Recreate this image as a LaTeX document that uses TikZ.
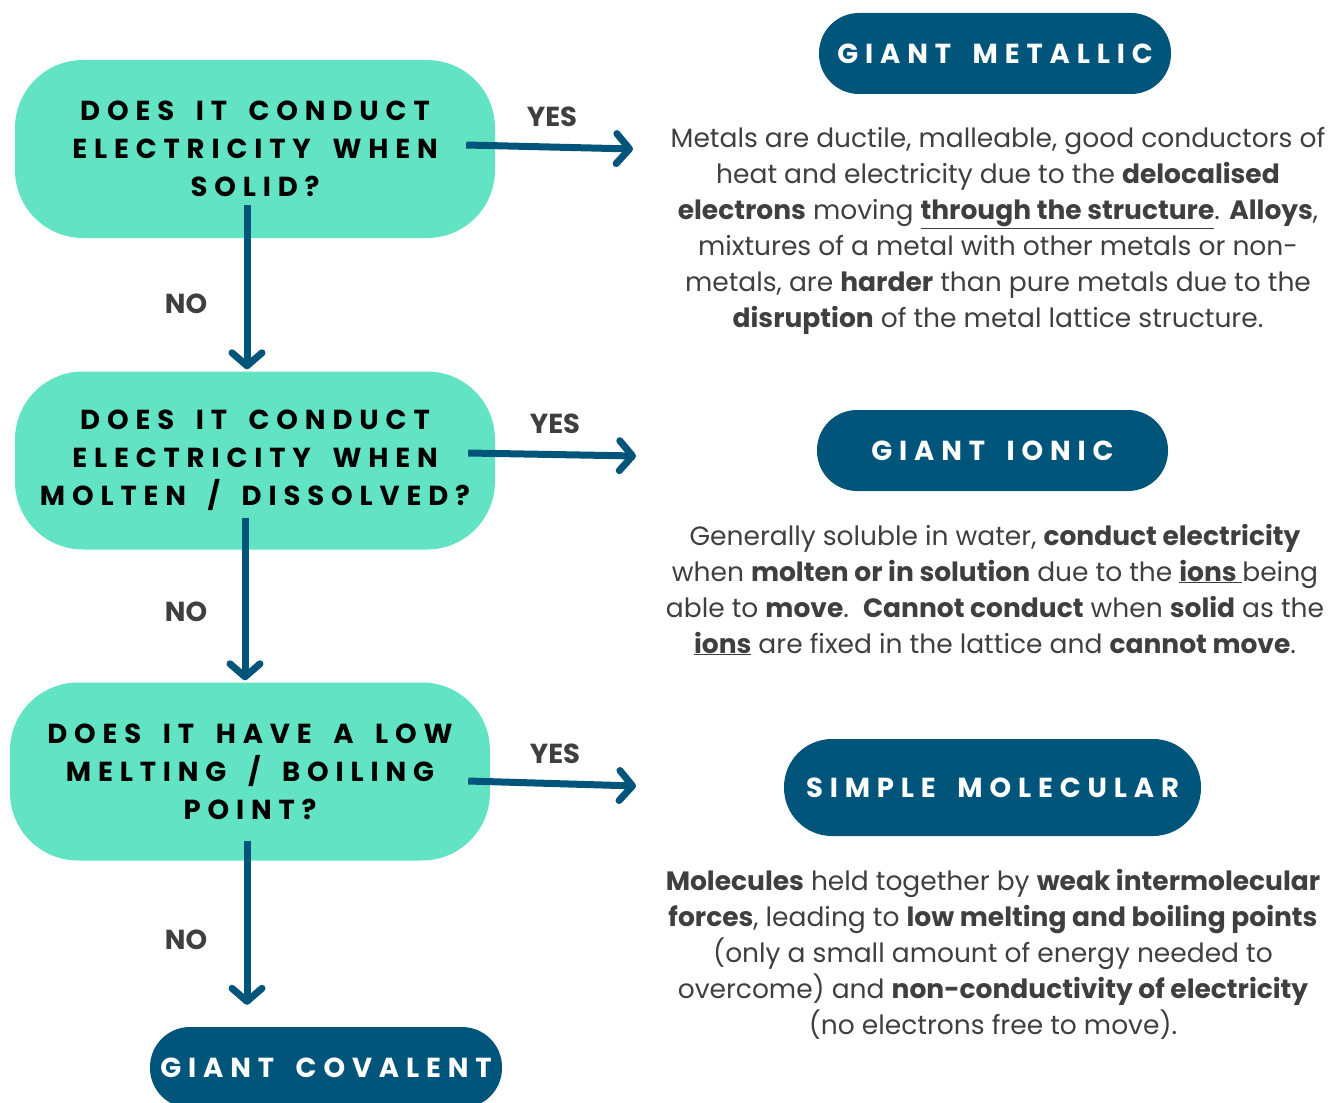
\documentclass[tikz,border=0pt]{standalone}
\usepackage{fontspec}
\setmainfont{Poppins}
\newfontfamily\capsfont[LetterSpace=25,WordSpace=1.7]{Poppins}
\usetikzlibrary{arrows.meta}
\definecolor{qfill}{HTML}{62E4C4}
\definecolor{dblue}{HTML}{02557A}
\definecolor{tgray}{HTML}{3F3F3F}
\newcommand\qfont{\capsfont\fontsize{27.5}{38}\selectfont\bfseries}
\newcommand\rfont{\capsfont\fontsize{27.5}{30}\selectfont\bfseries}
\newcommand\pfont{\fontsize{26.5}{36}\selectfont}
\newcommand\lfont{\fontsize{27.5}{27.5}\selectfont\bfseries}
\begin{document}
\begin{tikzpicture}[x=1pt,y=-1pt,
  qbox/.style={fill=qfill, rounded corners=68pt, minimum width=480pt, minimum height=178pt, align=center, font=\qfont, text=black, inner sep=0pt},
  rbox/.style={fill=dblue, rounded corners=40pt, text=white, font=\rfont, inner sep=0pt, minimum height=81pt},
  para/.style={align=center, text=tgray, font=\pfont, inner sep=0pt},
  lbl/.style={text=tgray, font=\lfont, inner sep=0pt},
  arr/.style={draw=dblue, line width=7pt, -{Straight Barb[length=13pt,width=30pt,round]}}]
\useasboundingbox (0,0) rectangle (1332,1102);
\clip (0,0) rectangle (1332,1102);

% question boxes
\node[qbox] (q1) at (255,149) {DOES IT CONDUCT\\ELECTRICITY WHEN\\SOLID?};
\node[qbox] (q2) at (255,460.5) {DOES IT CONDUCT\\ELECTRICITY WHEN\\MOLTEN / DISSOLVED?};
\node[qbox] (q3) at (250,771.5) {DOES IT HAVE A LOW\\MELTING / BOILING\\POINT?};

% result boxes
\node[rbox, minimum width=352pt] (met) at (995,53.5) {GIANT METALLIC};
\node[rbox, minimum width=351pt] (ion) at (992.5,450.5) {GIANT IONIC};
\node[rbox, minimum width=417pt, minimum height=97pt, rounded corners=48pt] (mol) at (992.5,787.5) {SIMPLE MOLECULAR};
\node[rbox, minimum width=352pt] (cov) at (326,1067.5) {GIANT COVALENT};

% paragraphs
\node[para] (pmet) at (998,231) {Metals are ductile, malleable, good conductors of\\
heat and electricity due to the \textbf{delocalised}\\
\textbf{electrons} moving \underline{\textbf{through the structure}}. \textbf{Alloys},\\
mixtures of a metal with other metals or non-\\
metals, are \textbf{harder} than pure metals due to the\\
\textbf{disruption} of the metal lattice structure.};
\node[para] (pion) at (995,589.5) {Generally soluble in water, \textbf{conduct electricity}\\
when \textbf{molten or in solution} due to the \underline{\textbf{ions }}being\\
able to \textbf{move}.\ \ \textbf{Cannot conduct} when \textbf{solid} as the\\
\underline{\textbf{ions}} are fixed in the lattice and \textbf{cannot move}.};
\node[para] (pmol) at (993,954) {\textbf{Molecules} held together by \textbf{weak intermolecular}\\
\textbf{forces}, leading to \textbf{low melting and boiling points}\\
(only a small amount of energy needed to\\
overcome) and \textbf{non-conductivity of electricity}\\
(no electrons free to move).};

% labels
\node[lbl] (y1l) at (552,117) {YES};
\node[lbl] (y2l) at (555,424) {YES};
\node[lbl] (y3l) at (555,754) {YES};
\node[lbl] (n1l) at (186,304) {NO};
\node[lbl] (n2l) at (186,612) {NO};
\node[lbl] (n3l) at (186,940) {NO};

% connectors
\coordinate (e1) at (633,149);
\coordinate (e2) at (636,456);
\coordinate (e3) at (636,786);
\draw[arr] ([xshift=-29pt,yshift=4pt]q1.east) -- (e1);
\draw[arr] ([xshift=-27pt,yshift=7.5pt]q2.east) -- (e2);
\draw[arr] ([xshift=-22pt,yshift=-9.5pt]q3.east) -- (e3);
\draw[arr] ([xshift=-8pt,yshift=33pt]q1.south) -- ([xshift=-8pt,yshift=2pt]q2.north);
\draw[arr] ([xshift=-10pt,yshift=32pt]q2.south) -- ([xshift=-5pt,yshift=2pt]q3.north);
\draw[arr] ([xshift=-3pt,yshift=20pt]q3.south) -- ([xshift=-79pt,yshift=22pt]cov.north);
\end{tikzpicture}
\end{document}
